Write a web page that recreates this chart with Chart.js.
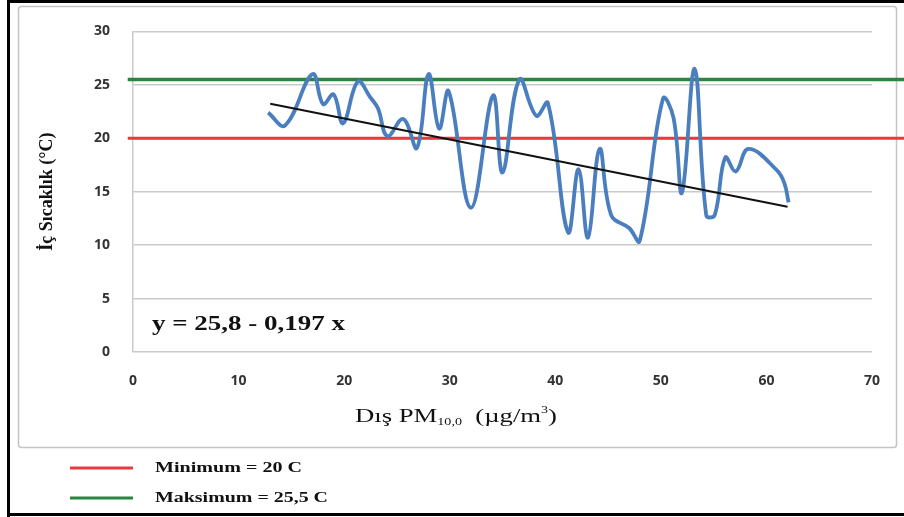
<!DOCTYPE html>
<html>
<head>
<meta charset="utf-8">
<title>İç Sıcaklık - Dış PM10,0</title>
<script src="https://cdn.jsdelivr.net/npm/chart.js@4.4.1/dist/chart.umd.min.js"></script>
<style>
  html, body { margin: 0; padding: 0; background: #fff; }
  #wrap { width: 904px; height: 517px; position: relative; }
</style>
</head>
<body>
<div id="wrap"><canvas id="pmChart" width="904" height="517"></canvas></div>
<script>
// ─── Data ───

// outdoor PM10 (µg/m3) and indoor temperature (°C), read in measurement order
const pmValues = [12.8, 14.4, 17.0, 18.0, 19.0, 19.9, 21.3, 22.5, 23.2, 24.1,
  25.6, 26.9, 28.0, 29.0, 29.9, 32.0, 34.1, 35.0, 36.6, 38.2,
  39.3, 41.2, 42.2, 43.1, 44.2, 45.3, 47.0, 48.0, 50.2, 51.2,
  52.0, 53.2, 54.3, 55.1, 56.1, 57.1, 58.3, 61.0, 61.7, 62.1];
const tempValues = [22.4, 21.2, 26.0, 23.2, 24.1, 21.4, 25.3, 23.8, 22.8, 20.2,
  21.8, 19.1, 26.0, 20.9, 24.4, 13.5, 24.0, 16.8, 25.5, 22.1,
  23.3, 11.2, 17.1, 10.7, 19.0, 12.8, 11.6, 10.4, 23.7, 21.9,
  14.9, 26.5, 12.8, 12.8, 18.2, 16.9, 19.0, 17.0, 15.8, 14.0];

// linear fit y = a + b x, drawn over the measured PM range
const trendIntercept = 25.8;
const trendSlope = -0.197;
const trendRange = [13, 62];

// comfort limits
const minLimit = 20;
const maxLimit = 25.5;
const limitSpan = [-0.5, 73.5];

const xTicks = [0, 10, 20, 30, 40, 50, 60, 70];
const yTicks = [0, 5, 10, 15, 20, 25, 30];

// ─── Colors ───

const COLORS = {
  series: '#4a7ebf',
  trend:  '#111111',
  min:    '#e8393f',
  max:    '#2a8540',
  grid:   '#c9c9c9',
  tick:   '#333333',
};

const trC = v => String(v).replace('.', ',');

const trendPoints = trendRange.map(x => ({ x, y: trendIntercept + trendSlope * x }));
const seriesPoints = pmValues.map((x, i) => ({ x, y: tempValues[i] }));

// ─── Helpers ───

// draws text squeezed/stretched horizontally to a given width
function drawFitText(ctx, text, x, y, width) {
  const w = ctx.measureText(text).width;
  ctx.save();
  ctx.translate(x, y);
  ctx.scale(width / w, 1);
  ctx.fillText(text, 0, 0);
  ctx.restore();
}

// frame, equation, x title with sub/superscripts and the limit legend
const decorPlugin = {
  id: 'decor',
  beforeDraw(chart) {
    const { ctx, width, height } = chart;
    ctx.save();
    ctx.fillStyle = '#fff';
    ctx.fillRect(0, 0, width, height);
    ctx.strokeStyle = '#c4c4c4';
    ctx.lineWidth = 1.5;
    ctx.beginPath();
    ctx.roundRect(18.5, 6.5, 878, 441, 3);
    ctx.stroke();
    ctx.fillStyle = '#000';
    ctx.fillRect(7, 0, width, 3);
    ctx.fillRect(7, 0, 3, height);
    ctx.fillRect(7, height - 4, width, 3);
    ctx.restore();
  },
  afterDraw(chart) {
    const { ctx } = chart;
    ctx.save();
    ctx.fillStyle = '#111';
    ctx.textBaseline = 'middle';
    ctx.textAlign = 'left';

    // regression equation
    ctx.font = 'bold 21px "Liberation Serif"';
    drawFitText(ctx, `y = ${trC(trendIntercept)} - ${trC(-trendSlope)} x`, 152, 325, 193);

    // x axis title: Dış PM10,0 (µg/m3)
    const parts = [
      { t: 'Dış PM', size: 19, dy: 0 },
      { t: '10,0', size: 10, dy: 5 },
      { t: '  (µg/m', size: 19, dy: 0 },
      { t: '3', size: 10, dy: -7 },
      { t: ')', size: 19, dy: 0 },
    ];
    let natural = 0;
    parts.forEach(p => {
      ctx.font = `${p.size}px "Liberation Serif"`;
      p.w = ctx.measureText(p.t).width;
      natural += p.w;
    });
    const titleW = 202;
    const sx = titleW / natural;
    ctx.save();
    ctx.translate(355, 417);
    ctx.scale(sx, 1);
    let cx = 0;
    parts.forEach(p => {
      ctx.font = `${p.size}px "Liberation Serif"`;
      ctx.fillText(p.t, cx, p.dy);
      cx += p.w;
    });
    ctx.restore();

    // limit legend
    const legend = [
      { color: COLORS.min, label: `Minimum = ${trC(minLimit)} C`, y: 468, w: 147 },
      { color: COLORS.max, label: `Maksimum = ${trC(maxLimit)} C`, y: 498, w: 173 },
    ];
    legend.forEach(item => {
      ctx.strokeStyle = item.color;
      ctx.lineWidth = 3;
      ctx.beginPath();
      ctx.moveTo(70, item.y);
      ctx.lineTo(133, item.y);
      ctx.stroke();
      ctx.font = 'bold 15px "Liberation Serif"';
      ctx.fillStyle = '#111';
      drawFitText(ctx, item.label, 155, item.y, item.w);
    });
    ctx.restore();
  },
};

// ─── Chart ───

const chart = new Chart(document.getElementById('pmChart'), {
  type: 'scatter',
  data: {
    datasets: [
      {
        label: 'Trend',
        data: trendPoints,
        showLine: true,
        borderColor: COLORS.trend,
        borderWidth: 2,
        pointRadius: 0,
        order: 0,
      },
      {
        label: 'İç Sıcaklık',
        data: seriesPoints,
        showLine: true,
        borderColor: COLORS.series,
        borderWidth: 3.8,
        tension: 0.4,
        pointRadius: 0,
        order: 1,
      },
      {
        label: 'Minimum',
        data: limitSpan.map(x => ({ x, y: minLimit })),
        showLine: true,
        borderColor: COLORS.min,
        borderWidth: 3,
        pointRadius: 0,
        clip: false,
        order: 2,
      },
      {
        label: 'Maksimum',
        data: limitSpan.map(x => ({ x, y: maxLimit })),
        showLine: true,
        borderColor: COLORS.max,
        borderWidth: 3.5,
        pointRadius: 0,
        clip: false,
        order: 2,
      },
    ],
  },
  options: {
    responsive: false,
    animation: false,
    layout: { padding: { left: 0, top: 31, right: 32, bottom: 105 } },
    plugins: {
      legend: { display: false },
      tooltip: { enabled: false },
    },
    scales: {
      x: {
        type: 'linear',
        min: xTicks[0],
        max: xTicks[xTicks.length - 1],
        afterBuildTicks: s => { s.ticks = xTicks.map(value => ({ value })); },
        afterFit: s => { s.height = 60; },
        grid: { display: false, drawTicks: false },
        border: { display: false },
        ticks: {
          padding: 21,
          color: COLORS.tick,
          font: { family: '"Open Sans"', size: 14, weight: 'bold' },
        },
      },
      y: {
        min: yTicks[0],
        max: yTicks[yTicks.length - 1],
        afterBuildTicks: s => { s.ticks = yTicks.map(value => ({ value })); },
        afterFit: s => { s.width = 133; },
        grid: { color: COLORS.grid, lineWidth: 1.5, drawTicks: false },
        border: { display: true, color: COLORS.grid, width: 1.5 },
        ticks: {
          padding: 23,
          color: COLORS.tick,
          font: { family: '"Open Sans"', size: 14, weight: 'bold' },
        },
        title: {
          display: true,
          text: 'İç Sıcaklık (°C)',
          color: '#111',
          padding: { top: 37, bottom: 0 },
          font: { family: '"Liberation Serif"', size: 18, weight: 'bold' },
        },
      },
    },
  },
  plugins: [decorPlugin],
});
</script>
</body>
</html>
